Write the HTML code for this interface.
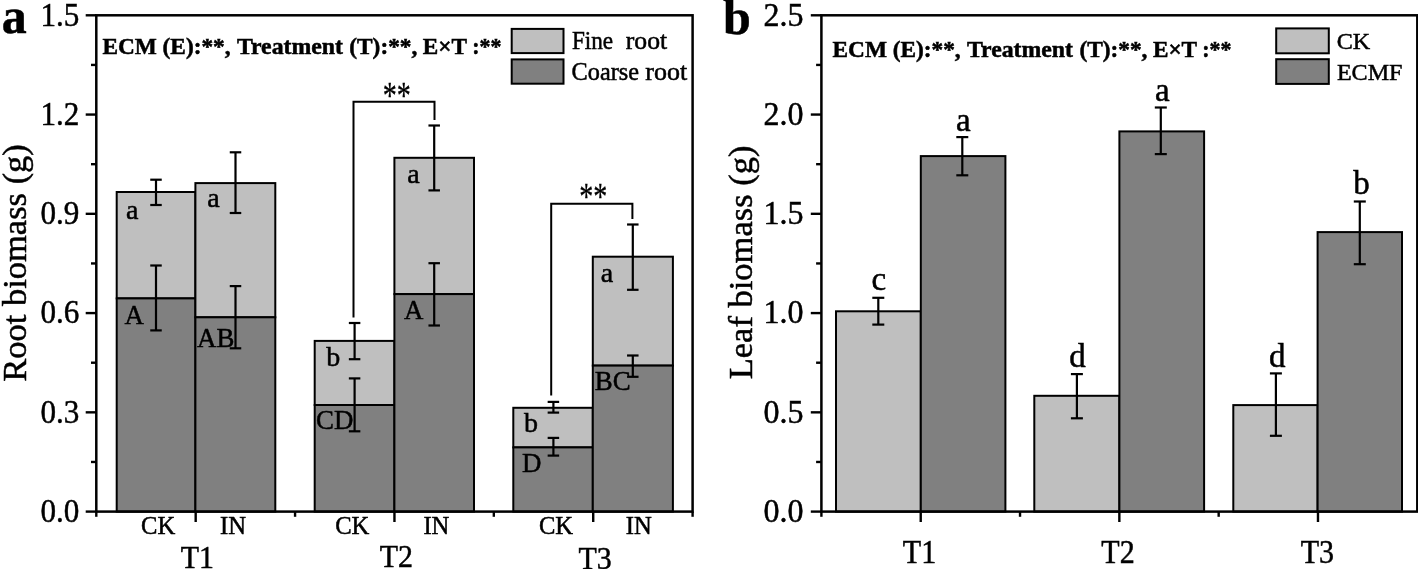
<!DOCTYPE html>
<html lang="en"><head><meta charset="utf-8"><title>Root and leaf biomass</title>
<style>
html,body{margin:0;padding:0;background:#fff;}
body{width:1418px;height:569px;overflow:hidden;}
svg{display:block;will-change:transform;font-family:'Liberation Serif', 'Times New Roman', Times, serif;fill:#000;}
svg text{stroke:#000;stroke-width:0.5px;paint-order:stroke;font-family:'Liberation Serif', 'Times New Roman', Times, serif;}
</style></head><body>
<svg width="1418" height="569" viewBox="0 0 1418 569">
<rect x="0" y="0" width="1418" height="569" fill="#fff" stroke="none"/>
<rect x="116.70" y="192.00" width="78.70" height="106.40" fill="#bfbfbf" stroke="#000" stroke-width="2.0"/>
<rect x="116.70" y="298.40" width="78.70" height="213.20" fill="#808080" stroke="#000" stroke-width="2.0"/>
<rect x="195.40" y="183.10" width="79.90" height="134.20" fill="#bfbfbf" stroke="#000" stroke-width="2.0"/>
<rect x="195.40" y="317.30" width="79.90" height="194.30" fill="#808080" stroke="#000" stroke-width="2.0"/>
<rect x="314.70" y="340.90" width="79.70" height="64.10" fill="#bfbfbf" stroke="#000" stroke-width="2.0"/>
<rect x="314.70" y="405.00" width="79.70" height="106.60" fill="#808080" stroke="#000" stroke-width="2.0"/>
<rect x="394.40" y="157.80" width="79.60" height="136.30" fill="#bfbfbf" stroke="#000" stroke-width="2.0"/>
<rect x="394.40" y="294.10" width="79.60" height="217.50" fill="#808080" stroke="#000" stroke-width="2.0"/>
<rect x="513.30" y="407.80" width="79.50" height="39.60" fill="#bfbfbf" stroke="#000" stroke-width="2.0"/>
<rect x="513.30" y="447.40" width="79.50" height="64.20" fill="#808080" stroke="#000" stroke-width="2.0"/>
<rect x="592.80" y="256.70" width="80.10" height="108.90" fill="#bfbfbf" stroke="#000" stroke-width="2.0"/>
<rect x="592.80" y="365.60" width="80.10" height="146.00" fill="#808080" stroke="#000" stroke-width="2.0"/>
<line x1="156.00" y1="179.70" x2="156.00" y2="205.00" stroke="#000" stroke-width="2.2" stroke-linecap="butt"/>
<line x1="150.25" y1="179.70" x2="161.75" y2="179.70" stroke="#000" stroke-width="2.2" stroke-linecap="butt"/>
<line x1="150.25" y1="205.00" x2="161.75" y2="205.00" stroke="#000" stroke-width="2.2" stroke-linecap="butt"/>
<line x1="156.00" y1="265.50" x2="156.00" y2="330.40" stroke="#000" stroke-width="2.2" stroke-linecap="butt"/>
<line x1="150.25" y1="265.50" x2="161.75" y2="265.50" stroke="#000" stroke-width="2.2" stroke-linecap="butt"/>
<line x1="150.25" y1="330.40" x2="161.75" y2="330.40" stroke="#000" stroke-width="2.2" stroke-linecap="butt"/>
<line x1="235.50" y1="152.30" x2="235.50" y2="213.00" stroke="#000" stroke-width="2.2" stroke-linecap="butt"/>
<line x1="229.75" y1="152.30" x2="241.25" y2="152.30" stroke="#000" stroke-width="2.2" stroke-linecap="butt"/>
<line x1="229.75" y1="213.00" x2="241.25" y2="213.00" stroke="#000" stroke-width="2.2" stroke-linecap="butt"/>
<line x1="235.50" y1="286.10" x2="235.50" y2="348.30" stroke="#000" stroke-width="2.2" stroke-linecap="butt"/>
<line x1="229.75" y1="286.10" x2="241.25" y2="286.10" stroke="#000" stroke-width="2.2" stroke-linecap="butt"/>
<line x1="229.75" y1="348.30" x2="241.25" y2="348.30" stroke="#000" stroke-width="2.2" stroke-linecap="butt"/>
<line x1="354.60" y1="323.00" x2="354.60" y2="359.20" stroke="#000" stroke-width="2.2" stroke-linecap="butt"/>
<line x1="348.85" y1="323.00" x2="360.35" y2="323.00" stroke="#000" stroke-width="2.2" stroke-linecap="butt"/>
<line x1="348.85" y1="359.20" x2="360.35" y2="359.20" stroke="#000" stroke-width="2.2" stroke-linecap="butt"/>
<line x1="354.60" y1="378.40" x2="354.60" y2="431.30" stroke="#000" stroke-width="2.2" stroke-linecap="butt"/>
<line x1="348.85" y1="378.40" x2="360.35" y2="378.40" stroke="#000" stroke-width="2.2" stroke-linecap="butt"/>
<line x1="348.85" y1="431.30" x2="360.35" y2="431.30" stroke="#000" stroke-width="2.2" stroke-linecap="butt"/>
<line x1="434.20" y1="125.50" x2="434.20" y2="190.40" stroke="#000" stroke-width="2.2" stroke-linecap="butt"/>
<line x1="428.45" y1="125.50" x2="439.95" y2="125.50" stroke="#000" stroke-width="2.2" stroke-linecap="butt"/>
<line x1="428.45" y1="190.40" x2="439.95" y2="190.40" stroke="#000" stroke-width="2.2" stroke-linecap="butt"/>
<line x1="434.20" y1="263.20" x2="434.20" y2="325.50" stroke="#000" stroke-width="2.2" stroke-linecap="butt"/>
<line x1="428.45" y1="263.20" x2="439.95" y2="263.20" stroke="#000" stroke-width="2.2" stroke-linecap="butt"/>
<line x1="428.45" y1="325.50" x2="439.95" y2="325.50" stroke="#000" stroke-width="2.2" stroke-linecap="butt"/>
<line x1="553.40" y1="401.90" x2="553.40" y2="412.60" stroke="#000" stroke-width="2.2" stroke-linecap="butt"/>
<line x1="547.65" y1="401.90" x2="559.15" y2="401.90" stroke="#000" stroke-width="2.2" stroke-linecap="butt"/>
<line x1="547.65" y1="412.60" x2="559.15" y2="412.60" stroke="#000" stroke-width="2.2" stroke-linecap="butt"/>
<line x1="553.40" y1="437.90" x2="553.40" y2="455.60" stroke="#000" stroke-width="2.2" stroke-linecap="butt"/>
<line x1="547.65" y1="437.90" x2="559.15" y2="437.90" stroke="#000" stroke-width="2.2" stroke-linecap="butt"/>
<line x1="547.65" y1="455.60" x2="559.15" y2="455.60" stroke="#000" stroke-width="2.2" stroke-linecap="butt"/>
<line x1="632.80" y1="224.50" x2="632.80" y2="289.80" stroke="#000" stroke-width="2.2" stroke-linecap="butt"/>
<line x1="627.05" y1="224.50" x2="638.55" y2="224.50" stroke="#000" stroke-width="2.2" stroke-linecap="butt"/>
<line x1="627.05" y1="289.80" x2="638.55" y2="289.80" stroke="#000" stroke-width="2.2" stroke-linecap="butt"/>
<line x1="632.80" y1="355.50" x2="632.80" y2="376.80" stroke="#000" stroke-width="2.2" stroke-linecap="butt"/>
<line x1="627.05" y1="355.50" x2="638.55" y2="355.50" stroke="#000" stroke-width="2.2" stroke-linecap="butt"/>
<line x1="627.05" y1="376.80" x2="638.55" y2="376.80" stroke="#000" stroke-width="2.2" stroke-linecap="butt"/>
<polyline points="353.5,317.4 353.5,101.85 434.5,101.85 434.5,120.0" fill="none" stroke="#000" stroke-width="2.0"/>
<polyline points="551.2,395.4 551.2,203.8 632.4,203.8 632.4,219.0" fill="none" stroke="#000" stroke-width="2.0"/>
<rect x="836.00" y="311.30" width="84.80" height="200.30" fill="#bfbfbf" stroke="#000" stroke-width="2.0"/>
<rect x="920.80" y="156.10" width="84.60" height="355.50" fill="#808080" stroke="#000" stroke-width="2.0"/>
<rect x="1034.30" y="395.80" width="85.10" height="115.80" fill="#bfbfbf" stroke="#000" stroke-width="2.0"/>
<rect x="1119.40" y="131.40" width="84.70" height="380.20" fill="#808080" stroke="#000" stroke-width="2.0"/>
<rect x="1233.30" y="405.10" width="84.30" height="106.50" fill="#bfbfbf" stroke="#000" stroke-width="2.0"/>
<rect x="1317.60" y="232.10" width="84.40" height="279.50" fill="#808080" stroke="#000" stroke-width="2.0"/>
<line x1="878.30" y1="297.80" x2="878.30" y2="324.60" stroke="#000" stroke-width="2.2" stroke-linecap="butt"/>
<line x1="872.30" y1="297.80" x2="884.30" y2="297.80" stroke="#000" stroke-width="2.2" stroke-linecap="butt"/>
<line x1="872.30" y1="324.60" x2="884.30" y2="324.60" stroke="#000" stroke-width="2.2" stroke-linecap="butt"/>
<line x1="962.30" y1="137.10" x2="962.30" y2="175.30" stroke="#000" stroke-width="2.2" stroke-linecap="butt"/>
<line x1="956.30" y1="137.10" x2="968.30" y2="137.10" stroke="#000" stroke-width="2.2" stroke-linecap="butt"/>
<line x1="956.30" y1="175.30" x2="968.30" y2="175.30" stroke="#000" stroke-width="2.2" stroke-linecap="butt"/>
<line x1="1076.90" y1="374.10" x2="1076.90" y2="418.30" stroke="#000" stroke-width="2.2" stroke-linecap="butt"/>
<line x1="1070.90" y1="374.10" x2="1082.90" y2="374.10" stroke="#000" stroke-width="2.2" stroke-linecap="butt"/>
<line x1="1070.90" y1="418.30" x2="1082.90" y2="418.30" stroke="#000" stroke-width="2.2" stroke-linecap="butt"/>
<line x1="1160.80" y1="107.50" x2="1160.80" y2="154.10" stroke="#000" stroke-width="2.2" stroke-linecap="butt"/>
<line x1="1154.80" y1="107.50" x2="1166.80" y2="107.50" stroke="#000" stroke-width="2.2" stroke-linecap="butt"/>
<line x1="1154.80" y1="154.10" x2="1166.80" y2="154.10" stroke="#000" stroke-width="2.2" stroke-linecap="butt"/>
<line x1="1275.90" y1="373.40" x2="1275.90" y2="435.80" stroke="#000" stroke-width="2.2" stroke-linecap="butt"/>
<line x1="1269.90" y1="373.40" x2="1281.90" y2="373.40" stroke="#000" stroke-width="2.2" stroke-linecap="butt"/>
<line x1="1269.90" y1="435.80" x2="1281.90" y2="435.80" stroke="#000" stroke-width="2.2" stroke-linecap="butt"/>
<line x1="1359.80" y1="201.50" x2="1359.80" y2="264.20" stroke="#000" stroke-width="2.2" stroke-linecap="butt"/>
<line x1="1353.80" y1="201.50" x2="1365.80" y2="201.50" stroke="#000" stroke-width="2.2" stroke-linecap="butt"/>
<line x1="1353.80" y1="264.20" x2="1365.80" y2="264.20" stroke="#000" stroke-width="2.2" stroke-linecap="butt"/>
<rect x="96.3" y="15.3" width="596.30" height="496.30" fill="none" stroke="#000" stroke-width="2.5"/>
<rect x="821.4" y="15.3" width="595.90" height="496.30" fill="none" stroke="#000" stroke-width="2.5"/>
<line x1="85.70" y1="511.60" x2="96.30" y2="511.60" stroke="#000" stroke-width="2.4" stroke-linecap="butt"/>
<text transform="translate(79.40,521.90) scale(0.93,1)" font-size="33.5" text-anchor="end">0.0</text>
<line x1="91.00" y1="461.97" x2="96.30" y2="461.97" stroke="#000" stroke-width="2.4" stroke-linecap="butt"/>
<line x1="85.70" y1="412.34" x2="96.30" y2="412.34" stroke="#000" stroke-width="2.4" stroke-linecap="butt"/>
<text transform="translate(79.40,422.64) scale(0.93,1)" font-size="33.5" text-anchor="end">0.3</text>
<line x1="91.00" y1="362.71" x2="96.30" y2="362.71" stroke="#000" stroke-width="2.4" stroke-linecap="butt"/>
<line x1="85.70" y1="313.08" x2="96.30" y2="313.08" stroke="#000" stroke-width="2.4" stroke-linecap="butt"/>
<text transform="translate(79.40,323.38) scale(0.93,1)" font-size="33.5" text-anchor="end">0.6</text>
<line x1="91.00" y1="263.45" x2="96.30" y2="263.45" stroke="#000" stroke-width="2.4" stroke-linecap="butt"/>
<line x1="85.70" y1="213.82" x2="96.30" y2="213.82" stroke="#000" stroke-width="2.4" stroke-linecap="butt"/>
<text transform="translate(79.40,224.12) scale(0.93,1)" font-size="33.5" text-anchor="end">0.9</text>
<line x1="91.00" y1="164.19" x2="96.30" y2="164.19" stroke="#000" stroke-width="2.4" stroke-linecap="butt"/>
<line x1="85.70" y1="114.56" x2="96.30" y2="114.56" stroke="#000" stroke-width="2.4" stroke-linecap="butt"/>
<text transform="translate(79.40,124.86) scale(0.93,1)" font-size="33.5" text-anchor="end">1.2</text>
<line x1="91.00" y1="64.93" x2="96.30" y2="64.93" stroke="#000" stroke-width="2.4" stroke-linecap="butt"/>
<line x1="85.70" y1="15.30" x2="96.30" y2="15.30" stroke="#000" stroke-width="2.4" stroke-linecap="butt"/>
<text transform="translate(79.40,25.60) scale(0.93,1)" font-size="33.5" text-anchor="end">1.5</text>
<line x1="810.80" y1="511.60" x2="821.40" y2="511.60" stroke="#000" stroke-width="2.4" stroke-linecap="butt"/>
<text transform="translate(803.50,521.90) scale(0.955,1)" font-size="33.5" text-anchor="end">0.0</text>
<line x1="816.10" y1="461.97" x2="821.40" y2="461.97" stroke="#000" stroke-width="2.4" stroke-linecap="butt"/>
<line x1="810.80" y1="412.34" x2="821.40" y2="412.34" stroke="#000" stroke-width="2.4" stroke-linecap="butt"/>
<text transform="translate(803.50,422.64) scale(0.955,1)" font-size="33.5" text-anchor="end">0.5</text>
<line x1="816.10" y1="362.71" x2="821.40" y2="362.71" stroke="#000" stroke-width="2.4" stroke-linecap="butt"/>
<line x1="810.80" y1="313.08" x2="821.40" y2="313.08" stroke="#000" stroke-width="2.4" stroke-linecap="butt"/>
<text transform="translate(803.50,323.38) scale(0.955,1)" font-size="33.5" text-anchor="end">1.0</text>
<line x1="816.10" y1="263.45" x2="821.40" y2="263.45" stroke="#000" stroke-width="2.4" stroke-linecap="butt"/>
<line x1="810.80" y1="213.82" x2="821.40" y2="213.82" stroke="#000" stroke-width="2.4" stroke-linecap="butt"/>
<text transform="translate(803.50,224.12) scale(0.955,1)" font-size="33.5" text-anchor="end">1.5</text>
<line x1="816.10" y1="164.19" x2="821.40" y2="164.19" stroke="#000" stroke-width="2.4" stroke-linecap="butt"/>
<line x1="810.80" y1="114.56" x2="821.40" y2="114.56" stroke="#000" stroke-width="2.4" stroke-linecap="butt"/>
<text transform="translate(803.50,124.86) scale(0.955,1)" font-size="33.5" text-anchor="end">2.0</text>
<line x1="816.10" y1="64.93" x2="821.40" y2="64.93" stroke="#000" stroke-width="2.4" stroke-linecap="butt"/>
<line x1="810.80" y1="15.30" x2="821.40" y2="15.30" stroke="#000" stroke-width="2.4" stroke-linecap="butt"/>
<text transform="translate(803.50,25.60) scale(0.955,1)" font-size="33.5" text-anchor="end">2.5</text>
<line x1="96.30" y1="511.60" x2="96.30" y2="516.80" stroke="#000" stroke-width="2.4" stroke-linecap="butt"/>
<line x1="195.68" y1="511.60" x2="195.68" y2="522.00" stroke="#000" stroke-width="2.4" stroke-linecap="butt"/>
<line x1="295.07" y1="511.60" x2="295.07" y2="516.80" stroke="#000" stroke-width="2.4" stroke-linecap="butt"/>
<line x1="394.45" y1="511.60" x2="394.45" y2="522.00" stroke="#000" stroke-width="2.4" stroke-linecap="butt"/>
<line x1="493.83" y1="511.60" x2="493.83" y2="516.80" stroke="#000" stroke-width="2.4" stroke-linecap="butt"/>
<line x1="593.22" y1="511.60" x2="593.22" y2="522.00" stroke="#000" stroke-width="2.4" stroke-linecap="butt"/>
<line x1="692.60" y1="511.60" x2="692.60" y2="516.80" stroke="#000" stroke-width="2.4" stroke-linecap="butt"/>
<line x1="821.40" y1="511.60" x2="821.40" y2="516.80" stroke="#000" stroke-width="2.4" stroke-linecap="butt"/>
<line x1="920.72" y1="511.60" x2="920.72" y2="522.00" stroke="#000" stroke-width="2.4" stroke-linecap="butt"/>
<line x1="1020.03" y1="511.60" x2="1020.03" y2="516.80" stroke="#000" stroke-width="2.4" stroke-linecap="butt"/>
<line x1="1119.35" y1="511.60" x2="1119.35" y2="522.00" stroke="#000" stroke-width="2.4" stroke-linecap="butt"/>
<line x1="1218.67" y1="511.60" x2="1218.67" y2="516.80" stroke="#000" stroke-width="2.4" stroke-linecap="butt"/>
<line x1="1317.98" y1="511.60" x2="1317.98" y2="522.00" stroke="#000" stroke-width="2.4" stroke-linecap="butt"/>
<text x="1.80" y="33.20" font-size="50" font-weight="bold" text-anchor="start">a</text>
<text x="722.90" y="33.70" font-size="50" font-weight="bold" text-anchor="start">b</text>
<text transform="translate(26.4,381.8) rotate(-90)" font-size="34.5">Root biomass (g)</text>
<text transform="translate(752,379.3) rotate(-90)" font-size="34.5">Leaf biomass (g)</text>
<text x="102.40" y="54.4" font-size="22.6" font-weight="bold" textLength="128.20" lengthAdjust="spacingAndGlyphs">ECM (E):**,</text>
<text x="236.90" y="54.4" font-size="22.6" font-weight="bold" textLength="106.00" lengthAdjust="spacingAndGlyphs">Treatment</text>
<text x="349.30" y="54.4" font-size="22.6" font-weight="bold" textLength="68.00" lengthAdjust="spacingAndGlyphs">(T):**,</text>
<text x="422.80" y="54.4" font-size="22.6" font-weight="bold" textLength="44.20" lengthAdjust="spacingAndGlyphs">E×T</text>
<text x="472.20" y="54.4" font-size="22.6" font-weight="bold" textLength="29.20" lengthAdjust="spacingAndGlyphs">:**</text>
<text x="832.50" y="56.9" font-size="22.6" font-weight="bold" textLength="128.20" lengthAdjust="spacingAndGlyphs">ECM (E):**,</text>
<text x="967.00" y="56.9" font-size="22.6" font-weight="bold" textLength="106.00" lengthAdjust="spacingAndGlyphs">Treatment</text>
<text x="1079.40" y="56.9" font-size="22.6" font-weight="bold" textLength="68.00" lengthAdjust="spacingAndGlyphs">(T):**,</text>
<text x="1152.90" y="56.9" font-size="22.6" font-weight="bold" textLength="44.20" lengthAdjust="spacingAndGlyphs">E×T</text>
<text x="1202.30" y="56.9" font-size="22.6" font-weight="bold" textLength="29.20" lengthAdjust="spacingAndGlyphs">:**</text>
<rect x="511.70" y="28.90" width="51.80" height="24.20" fill="#bfbfbf" stroke="#000" stroke-width="2.0"/>
<rect x="511.70" y="59.40" width="51.80" height="24.30" fill="#808080" stroke="#000" stroke-width="2.0"/>
<text x="571.90" y="48.8" font-size="24.2" textLength="41.20" lengthAdjust="spacingAndGlyphs">Fine</text>
<text x="625.80" y="48.8" font-size="24.2" textLength="41.40" lengthAdjust="spacingAndGlyphs">root</text>
<text x="571.60" y="79.9" font-size="24.2" textLength="67.40" lengthAdjust="spacingAndGlyphs">Coarse</text>
<text x="645.30" y="79.9" font-size="24.2" textLength="41.90" lengthAdjust="spacingAndGlyphs">root</text>
<rect x="1276.20" y="28.40" width="52.60" height="24.90" fill="#bfbfbf" stroke="#000" stroke-width="2.0"/>
<rect x="1276.20" y="59.20" width="52.60" height="24.70" fill="#808080" stroke="#000" stroke-width="2.0"/>
<text x="1336.70" y="48.70" font-size="24.1" text-anchor="start">CK</text>
<text x="1336.90" y="79.90" font-size="24.1" text-anchor="start">ECMF</text>
<text x="141.10" y="534.40" font-size="24.6" text-anchor="start">CK</text>
<text x="220.00" y="534.40" font-size="24.6" text-anchor="start">IN</text>
<text x="335.20" y="534.40" font-size="24.6" text-anchor="start">CK</text>
<text x="423.40" y="534.40" font-size="24.6" text-anchor="start">IN</text>
<text x="538.90" y="534.40" font-size="24.6" text-anchor="start">CK</text>
<text x="625.70" y="534.40" font-size="24.6" text-anchor="start">IN</text>
<text transform="translate(180.80,567.90) scale(0.92,1)" font-size="32.5" text-anchor="start">T1</text>
<text transform="translate(379.70,567.00) scale(0.92,1)" font-size="32.5" text-anchor="start">T2</text>
<text transform="translate(578.50,568.90) scale(0.92,1)" font-size="32.5" text-anchor="start">T3</text>
<text transform="translate(919.50,563.20) scale(0.91,1)" font-size="33" text-anchor="middle">T1</text>
<text transform="translate(1118.00,563.20) scale(0.91,1)" font-size="33" text-anchor="middle">T2</text>
<text transform="translate(1317.30,563.20) scale(0.91,1)" font-size="33" text-anchor="middle">T3</text>
<text x="126.00" y="219.00" font-size="28" text-anchor="start">a</text>
<text x="207.20" y="206.60" font-size="28" text-anchor="start">a</text>
<text x="407.20" y="183.00" font-size="28" text-anchor="start">a</text>
<text x="600.80" y="281.90" font-size="28" text-anchor="start">a</text>
<text x="326.20" y="366.00" font-size="28" text-anchor="start">b</text>
<text x="524.00" y="432.20" font-size="28" text-anchor="start">b</text>
<text transform="translate(124.40,323.60) scale(0.96,1)" font-size="28" text-anchor="start">A</text>
<text transform="translate(197.10,346.80) scale(0.96,1)" font-size="28" text-anchor="start">AB</text>
<text transform="translate(404.00,318.90) scale(0.96,1)" font-size="28" text-anchor="start">A</text>
<text transform="translate(316.10,428.80) scale(0.96,1)" font-size="28" text-anchor="start">CD</text>
<text transform="translate(594.80,390.40) scale(0.96,1)" font-size="28" text-anchor="start">BC</text>
<text transform="translate(522.00,471.70) scale(0.96,1)" font-size="28" text-anchor="start">D</text>
<text transform="translate(396.8,108.0) scale(0.76,1)" font-size="37" text-anchor="middle" style="stroke-width:0.3px">**</text>
<text transform="translate(593.2,209.3) scale(0.76,1)" font-size="37" text-anchor="middle" style="stroke-width:0.3px">**</text>
<text x="878.90" y="290.30" font-size="33" text-anchor="middle">c</text>
<text x="963.30" y="130.90" font-size="33" text-anchor="middle">a</text>
<text x="1077.60" y="366.50" font-size="33" text-anchor="middle">d</text>
<text x="1162.40" y="100.70" font-size="33" text-anchor="middle">a</text>
<text x="1277.30" y="366.50" font-size="33" text-anchor="middle">d</text>
<text x="1361.40" y="194.40" font-size="33" text-anchor="middle">b</text>
</svg>
</body></html>
